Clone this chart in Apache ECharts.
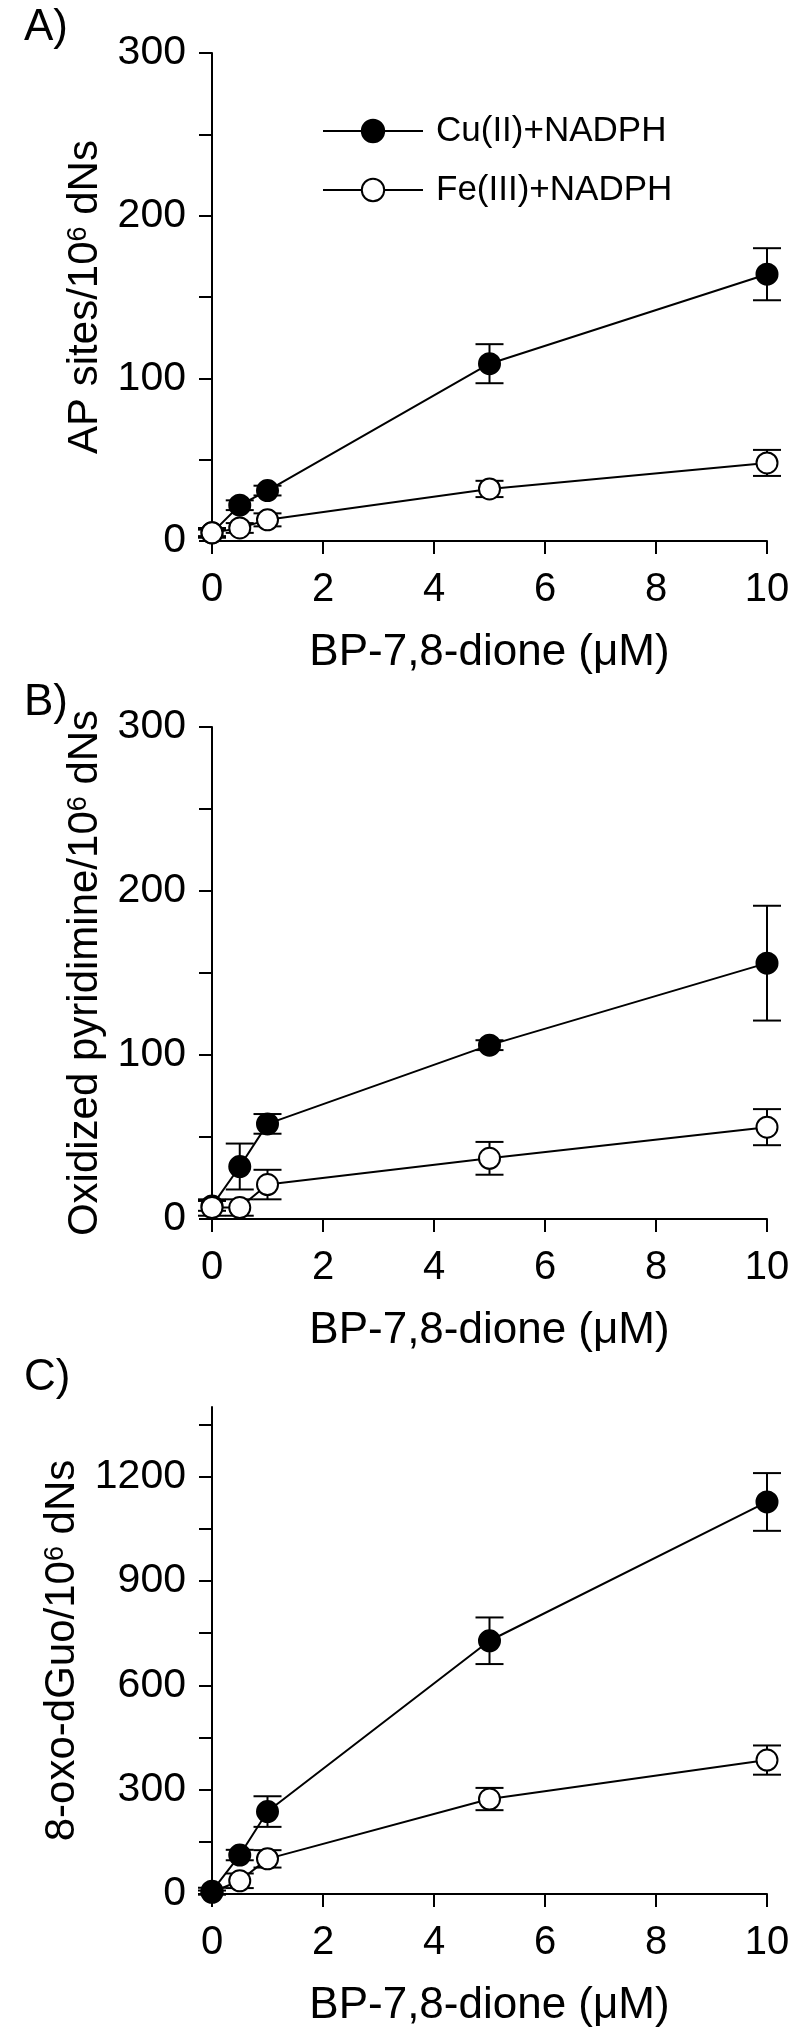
<!DOCTYPE html>
<html><head><meta charset="utf-8">
<script src="https://cdn.jsdelivr.net/npm/echarts@6/dist/echarts.min.js"></script>
<style>html,body{margin:0;padding:0;background:#fff}#c{width:800px;height:2042px}</style>
</head><body><div id="c"></div>
<script>
// ---- data ----
const concentrations = [0, 0.5, 1, 5, 10];
const xTickLabels = [0, 2, 4, 6, 8, 10];
// Panel A: AP sites / 10^6 dNs
const apCu = [5, 22, 31, 109, 164];
const apCuErr = [2, 3, 3, 12, 16];
const apFe = [5, 8, 13, 32, 48];
const apFeErr = [3, 3, 4, 5, 8];
// Panel B: oxidized pyridimine / 10^6 dNs
const oxCu = [8, 32, 58, 106, 156];
const oxCuErr = [3, 14, 6, 3, 35];
const oxFe = [7, 7, 21, 37, 56];
const oxFeErr = [5, 5, 9, 10, 11];
// Panel C: 8-oxo-dGuo / 10^6 dNs
const ogCu = [8, 112, 237, 728, 1127];
const ogCuErr = [10, 15, 44, 67, 83];
const ogFe = [5, 38, 101, 273, 385];
const ogFeErr = [5, 21, 25, 32, 42];
// tick values
const yLabelsAB = [0, 100, 200, 300];
const yTicksAB = [0, 50, 100, 150, 200, 250, 300];
const yLabelsC = [0, 300, 600, 900, 1200];
const yTicksC = [0, 150, 300, 450, 600, 750, 900, 1050, 1200, 1350];
const CU = 'Cu(II)+NADPH', FE = 'Fe(III)+NADPH';
const panelLetters = ['A)', 'B)', 'C)'];
const yNames = ['AP sites/10{sup|6} dNs', 'Oxidized pyridimine/10{sup|6} dNs', '8-oxo-dGuo/10{sup|6} dNs'];
const xName = 'BP-7,8-dione (\u03bcM)';

// ---- chart ----
const FF = '"Liberation Sans", Arial, Helvetica, sans-serif';
const chart = echarts.init(document.getElementById('c'), null, {renderer: 'canvas'});

const grids = [
  {left: 212, top: 53, width: 555, height: 488},
  {left: 212, top: 727, width: 555, height: 492},
  {left: 212, top: 1407, width: 555, height: 487}
];
const yCfg = [
  {max: 300, interval: 100, labels: yLabelsAB, ticks: yTicksAB, nameGap: 100},
  {max: 300, interval: 100, labels: yLabelsAB, ticks: yTicksAB, nameGap: 100},
  {max: 1400, interval: 300, labels: yLabelsC, ticks: yTicksC, nameGap: 121}
];

const axisLineStyle = {color: '#000', width: 2};
const plain = v => String(v);
const xAxes = grids.map((g, i) => ({
  type: 'value', gridIndex: i, min: 0, max: 10, interval: 2,
  axisLine: {show: true, onZero: false, lineStyle: axisLineStyle},
  axisTick: {show: true, length: 13, lineStyle: axisLineStyle},
  axisLabel: {fontSize: 40, color: '#000', fontFamily: FF, margin: 29, customValues: xTickLabels, formatter: plain},
  splitLine: {show: false},
  name: xName, nameLocation: 'middle', nameGap: 90,
  nameTextStyle: {fontSize: 44, color: '#000', fontFamily: FF}
}));
const yAxes = yCfg.map((c, i) => ({
  type: 'value', gridIndex: i, min: 0, max: c.max, interval: c.interval,
  axisLine: {show: true, onZero: false, lineStyle: axisLineStyle},
  axisTick: {show: true, length: 13, lineStyle: axisLineStyle, customValues: c.ticks},
  axisLabel: {fontSize: 41, color: '#000', fontFamily: FF, margin: 26, customValues: c.labels, formatter: plain},
  splitLine: {show: false},
  name: yNames[i], nameLocation: 'middle', nameRotate: 90, nameGap: c.nameGap,
  nameTextStyle: {fontSize: 42, color: '#000', fontFamily: FF,
    rich: {sup: {fontSize: 27, color: '#000', fontFamily: FF, verticalAlign: 'top', lineHeight: 42}}}
}));

function pairs(vals) { return concentrations.map((x, k) => [x, vals[k]]); }
function errData(vals, errs) { return concentrations.map((x, k) => [x, vals[k] - errs[k], vals[k] + errs[k]]); }

function errSeries(i, vals, errs) {
  return {
    type: 'custom', xAxisIndex: i, yAxisIndex: i, z: 1, silent: true,
    data: errData(vals, errs),
    encode: {x: 0, y: [1, 2]},
    renderItem: function (params, api) {
      const x = api.value(0);
      const lo = api.coord([x, api.value(1)]);
      const hi = api.coord([x, api.value(2)]);
      const hw = 14;
      const st = {stroke: '#000', lineWidth: 2};
      return {type: 'group', children: [
        {type: 'line', shape: {x1: lo[0], y1: lo[1], x2: hi[0], y2: hi[1]}, style: st},
        {type: 'line', shape: {x1: lo[0] - hw, y1: lo[1], x2: lo[0] + hw, y2: lo[1]}, style: st},
        {type: 'line', shape: {x1: hi[0] - hw, y1: hi[1], x2: hi[0] + hw, y2: hi[1]}, style: st}
      ]};
    }
  };
}
function lineSeries(i, name, vals, filled, z) {
  return {
    type: 'line', name: name, xAxisIndex: i, yAxisIndex: i, z: z,
    data: pairs(vals), symbol: 'circle', symbolSize: 21, showSymbol: true,
    lineStyle: {color: '#000', width: 2},
    itemStyle: {color: filled ? '#000' : '#fff', borderColor: '#000', borderWidth: 2},
    emphasis: {disabled: true}
  };
}

const series = [
  errSeries(0, apCu, apCuErr), errSeries(0, apFe, apFeErr),
  lineSeries(0, CU, apCu, true, 2), lineSeries(0, FE, apFe, false, 3),
  errSeries(1, oxCu, oxCuErr), errSeries(1, oxFe, oxFeErr),
  lineSeries(1, CU, oxCu, true, 2), lineSeries(1, FE, oxFe, false, 3),
  errSeries(2, ogCu, ogCuErr), errSeries(2, ogFe, ogFeErr),
  lineSeries(2, FE, ogFe, false, 2), lineSeries(2, CU, ogCu, true, 3)
];

const letterTops = [6, 681, 1356];
chart.setOption({
  animation: false,
  backgroundColor: '#fff',
  title: panelLetters.map((t, i) => ({
    text: t, left: 24, top: letterTops[i], padding: 0,
    textStyle: {fontSize: 44, fontWeight: 'normal', color: '#000', fontFamily: FF}
  })),
  legend: {
    data: [CU, FE], orient: 'vertical', left: 322, top: 113, padding: 0,
    itemWidth: 100, itemHeight: 28, itemGap: 23, selectedMode: false,
    textStyle: {fontSize: 35, color: '#000', fontFamily: FF, lineHeight: 36, padding: [0, 0, 0, 8]}
  },
  grid: grids,
  xAxis: xAxes,
  yAxis: yAxes,
  series: series
});
</script>
</body></html>
